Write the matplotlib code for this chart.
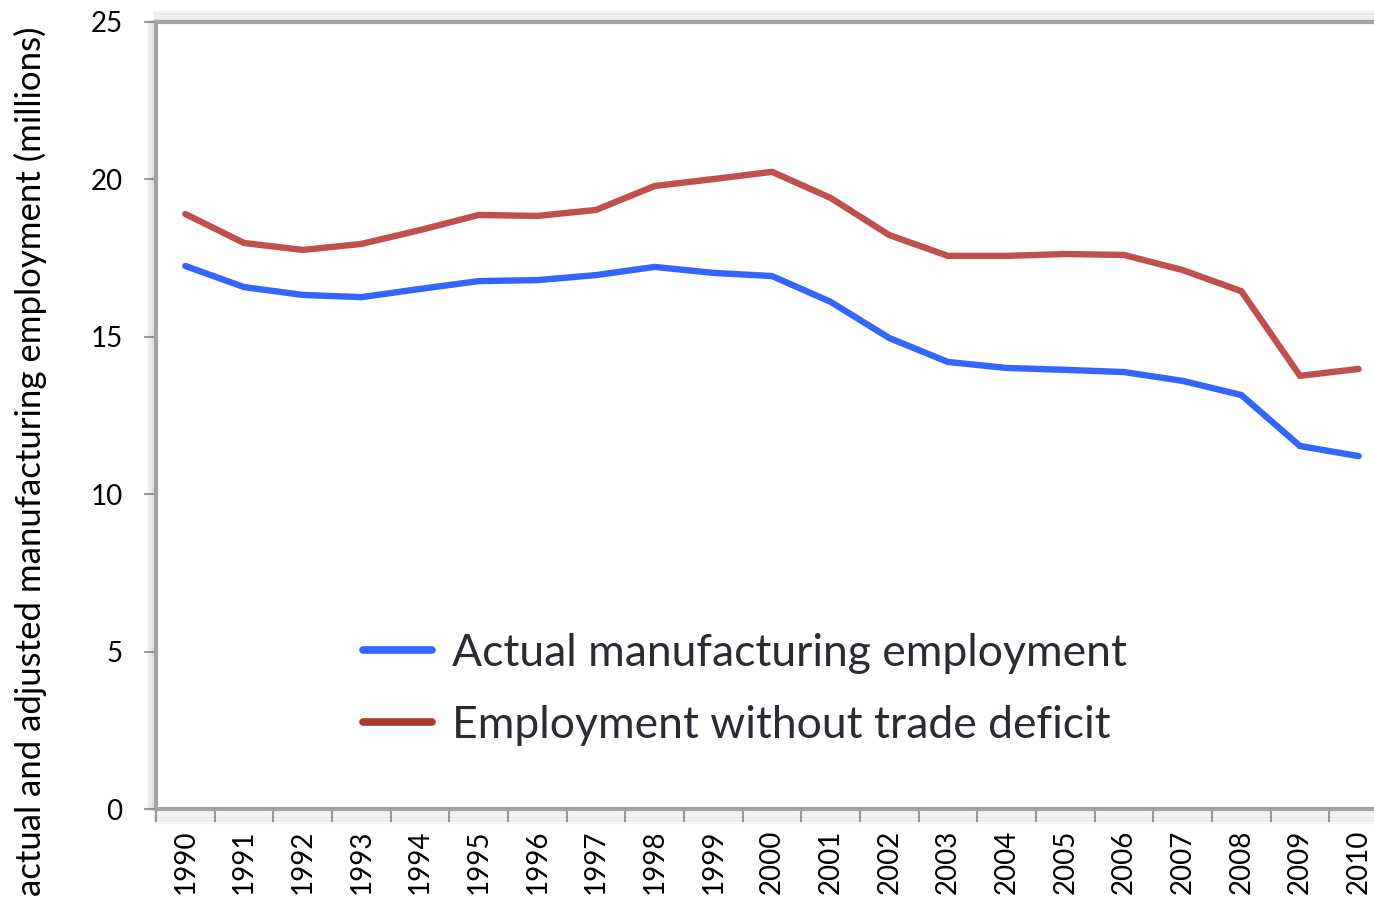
import numpy as np
import matplotlib
matplotlib.use("Agg")
import matplotlib.pyplot as plt
import matplotlib.patheffects as pe
from matplotlib.lines import Line2D

plt.rcParams['font.family'] = ['Lato', 'DejaVu Sans']

years = [str(y) for y in range(1990, 2011)]
actual = [17.25, 16.58, 16.33, 16.26, 16.52, 16.77, 16.80, 16.96, 17.22, 17.03,
          16.93, 16.11, 14.96, 14.20, 14.01, 13.95, 13.88, 13.60, 13.15, 11.53, 11.21]
no_deficit = [18.90, 17.98, 17.76, 17.95, 18.39, 18.87, 18.84, 19.03, 19.79, 20.01,
              20.24, 19.41, 18.23, 17.57, 17.57, 17.63, 17.60, 17.12, 16.45, 13.76, 13.98]
y_ticks = [0, 5, 10, 15, 20, 25]

W, H = 1374, 905
fig = plt.figure(figsize=(W / 100, H / 100), dpi=100)
# plot area runs a little past the right edge of the figure
ax = fig.add_axes([156 / W, 1 - 809 / H, (1388 - 156) / W, (809 - 22) / H])

x = np.arange(len(years))
ax.plot(x, actual, color='#3366FF', lw=4.6, solid_capstyle='round',
        solid_joinstyle='miter', label='Actual manufacturing employment')
ax.plot(x, no_deficit, color='#C0504D', lw=4.6, solid_capstyle='round',
        solid_joinstyle='miter', label='Employment without trade deficit')

ax.set_xlim(-0.5, len(years) - 0.5)
ax.set_ylim(0, 25)
ax.set_yticks(y_ticks)
ax.set_yticklabels([str(v) for v in y_ticks], fontsize=20)
ax.set_xticks(x)
ax.set_xticklabels(years, rotation=90, fontsize=20)
ax.set_xticks(np.arange(-0.5, len(years), 1.0), minor=True)
ax.tick_params(axis='x', which='major', length=0, pad=15)
ax.tick_params(axis='x', which='minor', length=9, width=1.5, color='#a0a0a0')
ax.tick_params(axis='y', length=9, width=1.5, color='#a0a0a0', pad=15)

# grey frame with a soft drop shadow on the outside
def soft_shadow(dx, dy):
    return [pe.SimpleLineShadow(offset=(dx * d, dy * d), shadow_color='#000000',
                                alpha=0.045, rho=1) for d in (2, 4, 6, 8)]

frame_fx = {'left': soft_shadow(-0.6, 0), 'top': soft_shadow(0, 0.8),
            'bottom': soft_shadow(0, -1.2)}
for side, fx in frame_fx.items():
    sp = ax.spines[side]
    sp.set_color('#a3a3a3')
    sp.set_linewidth(3)
    sp.set_path_effects(fx + [pe.Normal()])
ax.spines['right'].set_visible(False)

handles = [Line2D([], [], color='#3366FF', lw=5.5, solid_capstyle='round'),
           Line2D([], [], color='#A83A2C', lw=5.5, solid_capstyle='round')]
leg = ax.legend(handles, ['Actual manufacturing employment', 'Employment without trade deficit'],
                loc='upper left', bbox_to_anchor=(0.168, 0.224), frameon=False,
                borderpad=0, borderaxespad=0,
                fontsize=32, handlelength=1.55, handletextpad=0.45, labelspacing=0.7)
for t in leg.get_texts():
    t.set_color('#2a2b33')

fig.text(30 / W, 1 - 27 / H, 'actual and adjusted manufacturing employment (millions)',
         rotation=90, ha='center', va='top', fontsize=25)

fig.savefig('out.png', dpi=100)
